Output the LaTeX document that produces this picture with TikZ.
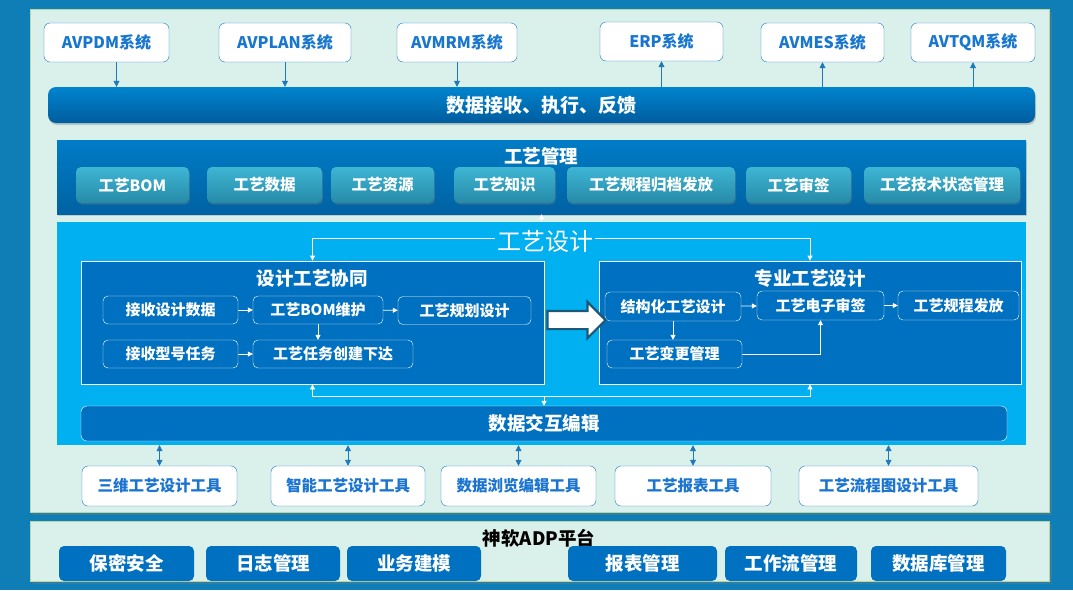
\documentclass[tikz,border=0pt]{standalone}
\usepackage{fontspec}
\setmainfont{Noto Sans CJK SC}
\usetikzlibrary{positioning,shadows,shapes.arrows,arrows.meta}
\definecolor{outerblue}{RGB}{16,126,182}
\definecolor{mint}{RGB}{218,241,235}
\definecolor{panelline}{RGB}{186,214,160}
\definecolor{sysblue}{RGB}{24,118,206}
\definecolor{toolblue}{RGB}{26,116,208}
\definecolor{arrblue}{RGB}{30,120,185}
\definecolor{bartop}{RGB}{0,132,206}
\definecolor{barbot}{RGB}{0,92,158}
\definecolor{mgtop}{RGB}{0,124,198}
\definecolor{mgbot}{RGB}{0,98,162}
\definecolor{btntop}{RGB}{62,182,212}
\definecolor{btnbot}{RGB}{38,138,168}
\definecolor{sjcyan}{RGB}{0,176,240}
\definecolor{deepblue}{RGB}{0,112,192}
\definecolor{arrline}{RGB}{28,88,120}
\begin{document}
\begin{tikzpicture}[x=1pt,y=-1pt]
  \tikzstyle{every node}=[inner sep=2pt]
  \tikzstyle{panel}=[draw=panelline,fill=mint,line width=0.8pt]
  \tikzstyle{sysbox}=[draw=sysblue,fill=white,rounded corners=6pt,text=sysblue,minimum height=39pt,font=\bfseries\fontsize{16}{18}\selectfont]
  \tikzstyle{toolbox}=[sysbox,minimum height=40pt,text=toolblue,font=\bfseries\fontsize{15.5}{19}\selectfont]
  \tikzstyle{gyban}=[rounded corners=5pt,top color=btntop,bottom color=btnbot,minimum height=36pt,text=white,font=\bfseries\fontsize{15.5}{19}\selectfont,drop shadow={opacity=0.35,shadow xshift=1pt,shadow yshift=-1.5pt}]
  \tikzstyle{inbox}=[draw=white,fill=deepblue,rounded corners=5pt,minimum height=28pt,text=white,font=\bfseries\fontsize{15}{18}\selectfont]
  \tikzstyle{bigbox}=[draw=white,fill=deepblue,line width=0.8pt,minimum height=123pt]
  \tikzstyle{pingtai}=[fill=deepblue,rounded corners=5pt,minimum height=35pt,text=white,font=\bfseries\fontsize{18.5}{21}\selectfont]
  \tikzstyle{wtitle}=[text=white,font=\bfseries\fontsize{18.5}{21}\selectfont]
  \tikzstyle{toparr}=[draw=arrblue,line width=0.8pt,-{Triangle[length=6pt,width=6pt]}]
  \tikzstyle{warr}=[draw=white,line width=0.8pt,-{Triangle[length=5pt,width=5pt]}]
  \fill[outerblue] (0,0) rectangle (1073,590);
  \draw[panel,drop shadow={opacity=0.3}] (30,9) rectangle (1049,512);
  \draw[panel,drop shadow={opacity=0.3}] (30,521) rectangle (1049,581);
  \node[sysbox,minimum width=125pt] (pdm) at (106.5,42.5) {AVPDM系统};
  \node[sysbox,minimum width=132pt] (plan) at (285,42.5) {AVPLAN系统};
  \node[sysbox,minimum width=120pt] (mrm) at (457,42.5) {AVMRM系统};
  \node[sysbox,minimum width=123pt] (erp) at (661.5,41.5) {ERP系统};
  \node[sysbox,minimum width=123pt] (mes) at (822.5,42.5) {AVMES系统};
  \node[sysbox,minimum width=124pt] (tqm) at (973,42.5) {AVTQM系统};
  \node[rounded corners=8pt,top color=bartop,bottom color=barbot,minimum width=987pt,minimum height=36pt,text=white,font=\bfseries\fontsize{19}{22}\selectfont,drop shadow={opacity=0.35,shadow xshift=1pt,shadow yshift=-2pt}] (bar) at (541.5,105) {数据接收、执行、反馈};
  \draw[toparr] ([xshift=10pt]pdm.south) -- ([xshift=10pt]pdm.south |- bar.north);
  \foreach \s in {plan,mrm}
    \draw[toparr] (\s.south) -- (\s.south |- bar.north);
  \foreach \s in {erp,mes,tqm}
    \draw[toparr] (\s.south |- bar.north) -- (\s.south);
  \node[top color=mgtop,bottom color=mgbot,minimum width=969pt,minimum height=74pt,drop shadow={opacity=0.3,shadow xshift=1pt,shadow yshift=-2pt}] (glpanel) at (541.5,177) {};
  \node[wtitle] (gltitle) at (541,156) {工艺管理};
  \node[gyban,minimum width=113pt] (m1) at (132.5,185) {工艺BOM};
  \node[gyban,minimum width=115pt] (m2) at (264.5,185) {工艺数据};
  \node[gyban,minimum width=103pt] (m3) at (382.5,185) {工艺资源};
  \node[gyban,minimum width=101pt] (m4) at (504.5,185) {工艺知识};
  \node[gyban,minimum width=168pt] (m5) at (651,185) {工艺规程归档发放};
  \node[gyban,minimum width=105pt] (m6) at (798.5,185) {工艺审签};
  \node[gyban,minimum width=156pt] (m7) at (942,185) {工艺技术状态管理};
  \node[fill=sjcyan,minimum width=969pt,minimum height=223pt] (sjpanel) at (541.5,333.5) {};
  \draw[warr] (sjpanel.north) -- (glpanel.south);
  \node[text=white,font=\fontsize{24}{28}\selectfont] (sjtitle) at (545,241) {工艺设计};
  \node[bigbox,minimum width=463pt] (xt) at (312.5,322.5) {};
  \node[bigbox,minimum width=422pt] (zy) at (810,322.5) {};
  \draw[warr] ([yshift=3pt]sjtitle.west) -| (xt.north);
  \draw[warr] ([yshift=3pt]sjtitle.east) -| (zy.north);
  \node[wtitle] (xttitle) at (312,278) {设计工艺协同};
  \node[wtitle] (zytitle) at (810,278) {专业工艺设计};
  \node[inbox,minimum width=135pt] (a1) at (170.5,310) {接收设计数据};
  \node[inbox,minimum width=130pt] (a2) at (318,310) {工艺BOM维护};
  \node[inbox,minimum width=133pt] (a3) at (464.5,310.5) {工艺规划设计};
  \node[inbox,minimum width=135pt] (a4) at (170.5,354) {接收型号任务};
  \node[inbox,minimum width=160pt] (a5) at (333,354) {工艺任务创建下达};
  \draw[warr] (a1) -- (a2);
  \draw[warr] (a2) -- (a3);
  \draw[warr] (a4) -- (a5);
  \draw[warr] (a2.south) -- (a2.south |- a5.north);
  \node[inbox,minimum width=136pt,minimum height=29pt] (b1) at (673,306.5) {结构化工艺设计};
  \node[inbox,minimum width=127pt,minimum height=29pt] (b2) at (820.5,305.5) {工艺电子审签};
  \node[inbox,minimum width=121pt,minimum height=29pt] (b3) at (958.5,305.5) {工艺规程发放};
  \node[inbox,minimum width=135pt] (b4) at (674.5,354) {工艺变更管理};
  \draw[warr] (b1) -- (b2);
  \draw[warr] (b2) -- (b3);
  \draw[warr] (b1.south) -- (b1.south |- b4.north);
  \draw[warr] (b4.east) -| (b2.south);
  \node[single arrow,draw=arrline,fill=white,line width=2.2pt,inner sep=8pt,minimum height=58pt,single arrow head extend=9pt] (bigarr) at (572,320) {};
  \node[draw=white,fill=deepblue,rounded corners=6pt,minimum width=926pt,minimum height=35pt,wtitle] (jh) at (544,423.5) {数据交互编辑};
  \draw[warr,{Triangle[length=5pt,width=5pt]}-{Triangle[length=5pt,width=5pt]}] (xt.south) -- ++(0,12) -| (zy.south);
  \draw[warr] ([yshift=-12pt]xt.south -| jh.north) -- (jh.north);
  \node[toolbox,minimum width=155pt] (t1) at (159.5,486) {三维工艺设计工具};
  \node[toolbox,minimum width=154pt] (t2) at (348,486) {智能工艺设计工具};
  \node[toolbox,minimum width=155pt] (t3) at (518.5,486) {数据浏览编辑工具};
  \node[toolbox,minimum width=156pt] (t4) at (693,486) {工艺报表工具};
  \node[toolbox,minimum width=179pt] (t5) at (888.5,486) {工艺流程图设计工具};
  \foreach \t in {t1,t2,t3,t4,t5}
    \draw[toparr,{Triangle[length=6pt,width=6pt]}-{Triangle[length=6pt,width=6pt]}] (\t.north |- sjpanel.south) -- (\t.north);
  \node[font=\bfseries\fontsize{18.5}{21}\selectfont] (adp) at (539,538) {神软ADP平台};
  \node[pingtai,minimum width=135pt] (p1) at (126.5,563.5) {保密安全};
  \node[pingtai,minimum width=134pt] (p2) at (273,563.5) {日志管理};
  \node[pingtai,minimum width=134pt] (p3) at (414,563.5) {业务建模};
  \node[pingtai,minimum width=149pt] (p4) at (642.5,563.5) {报表管理};
  \node[pingtai,minimum width=132pt] (p5) at (791,563.5) {工作流管理};
  \node[pingtai,minimum width=135pt] (p6) at (938.5,563.5) {数据库管理};
\end{tikzpicture}
\end{document}
